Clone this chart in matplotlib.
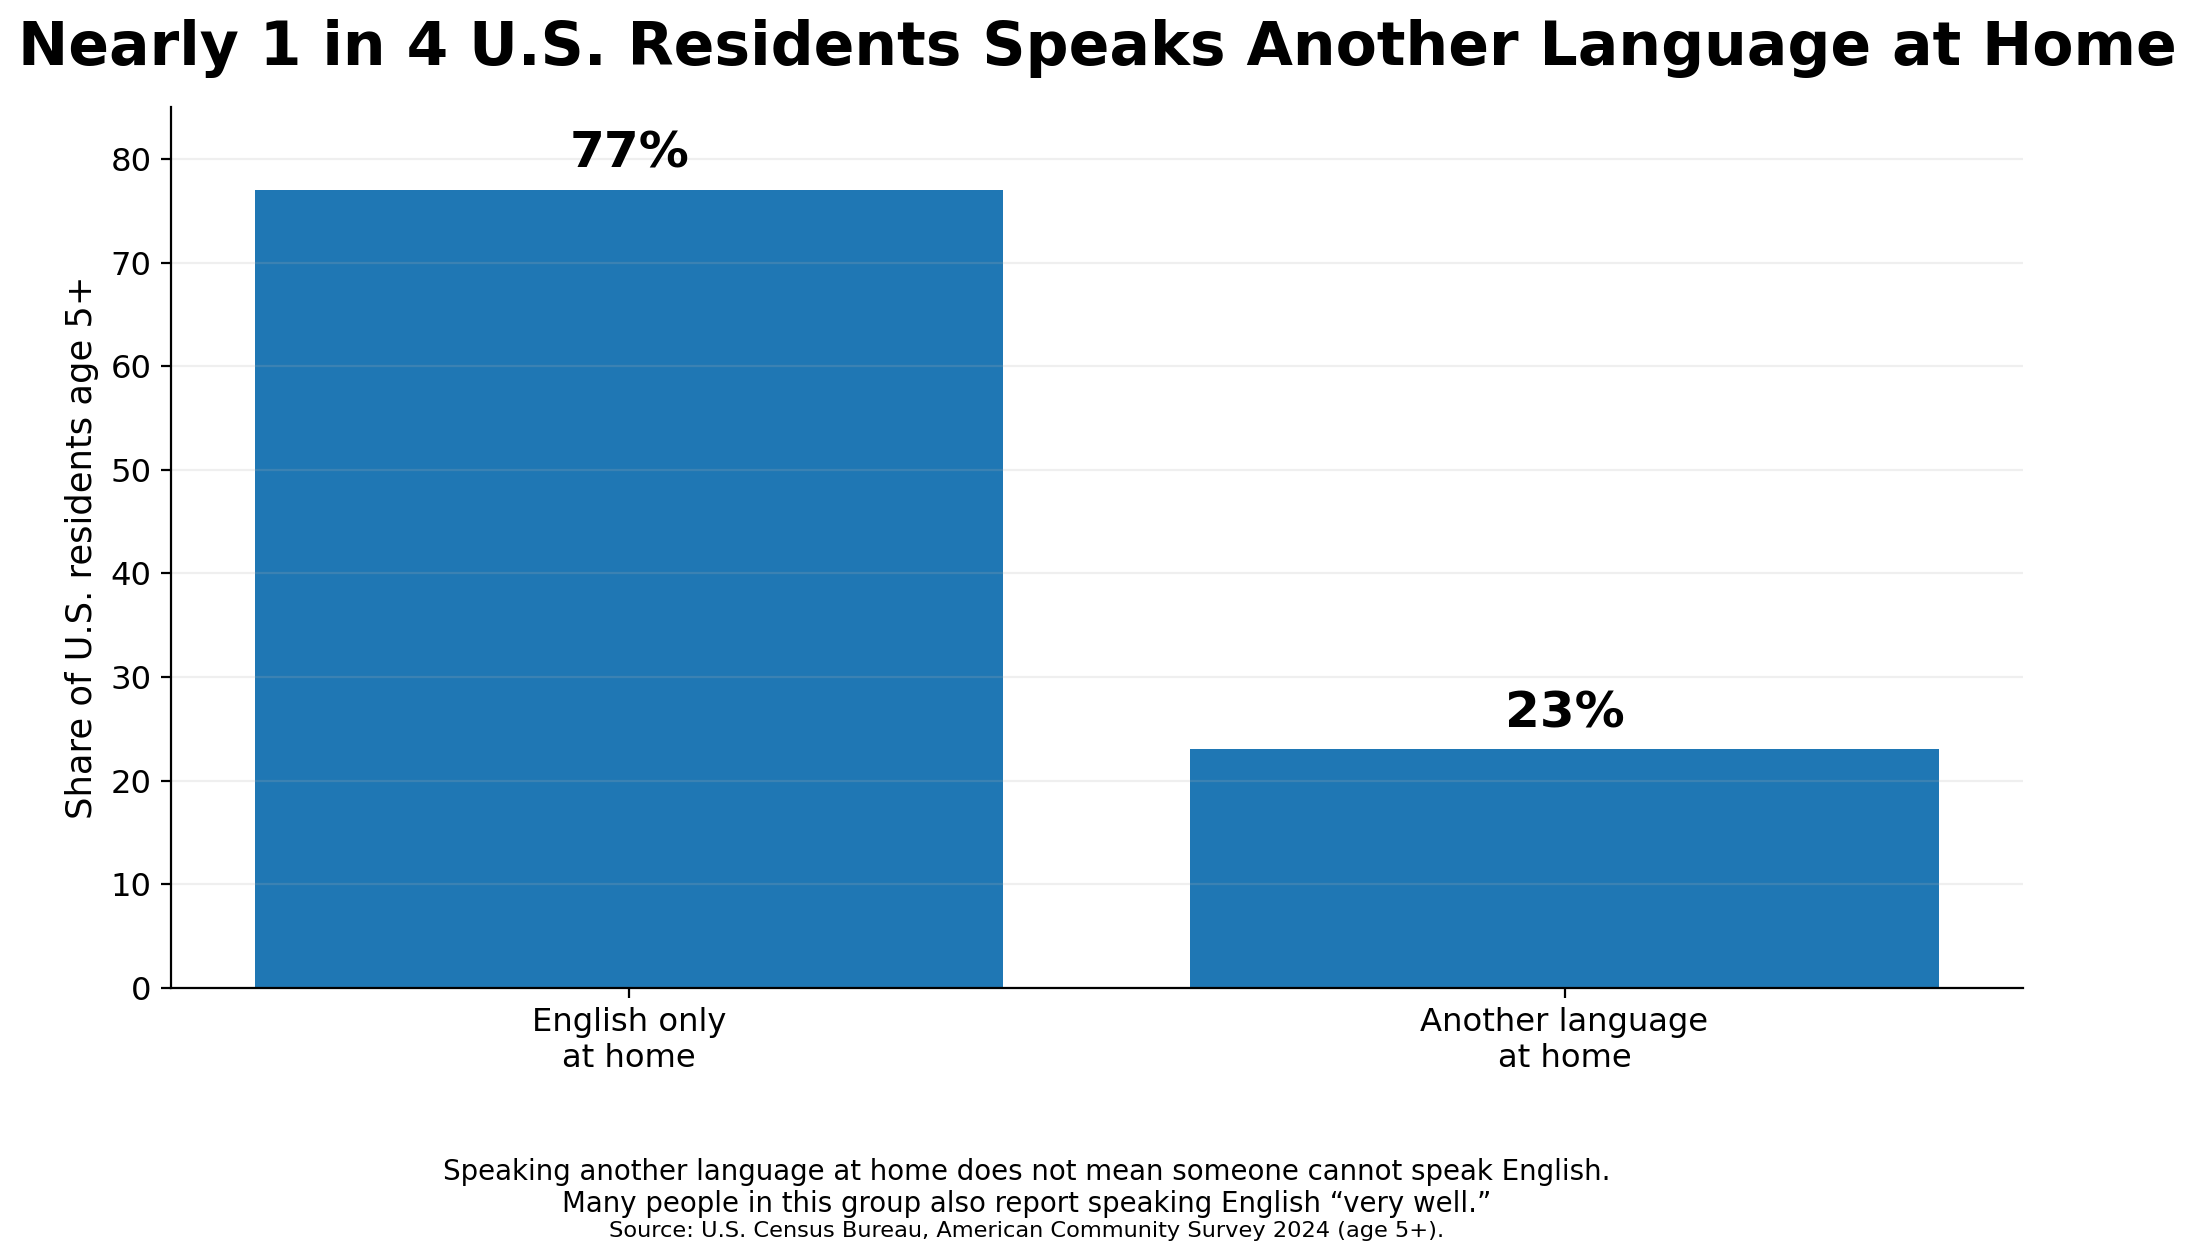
import matplotlib
matplotlib.use("Agg")
import matplotlib.pyplot as plt

categories = ["English only\nat home", "Another language\nat home"]
shares = [77, 23]
value_labels = ["77%", "23%"]

title = "Nearly 1 in 4 U.S. Residents Speaks Another Language at Home"
ylabel = "Share of U.S. residents age 5+"
note = ("Speaking another language at home does not mean someone cannot speak English.\n"
        "Many people in this group also report speaking English \u201cvery well.\u201d")
source = "Source: U.S. Census Bureau, American Community Survey 2024 (age 5+)."

fig = plt.figure(figsize=(10.97, 6.295), dpi=200)
ax = fig.add_axes([0.0779, 0.2155, 0.9220 - 0.0779, 0.9148 - 0.2155])

x = range(len(categories))
ax.bar(x, shares, width=0.8, color="#1f77b4")
for xi, v, lab in zip(x, shares, value_labels):
    ax.text(xi, v + 1.2, lab, ha="center", va="bottom", fontsize=18, fontweight="bold")

ax.set_xticks(list(x))
ax.set_xticklabels(categories, fontsize=11.6)
ax.tick_params(axis="y", labelsize=11.6)
ax.set_ylim(0, 85)
ax.set_ylabel(ylabel, fontsize=12.7)
ax.grid(axis="y", alpha=0.2)
ax.spines["top"].set_visible(False)
ax.spines["right"].set_visible(False)

fig.text(0.5, 1 - 65 / 1259, title, ha="center", va="baseline", fontsize=21.6, fontweight="bold")
# baseline of a two-line text sits on its last line
fig.text(0.4678, 1 - 1212 / 1259, note, ha="center", va="baseline", fontsize=9.95)
fig.text(0.4678, 1 - 1237 / 1259, source, ha="center", va="baseline", fontsize=8.1)

fig.savefig("out.png", dpi=200)
